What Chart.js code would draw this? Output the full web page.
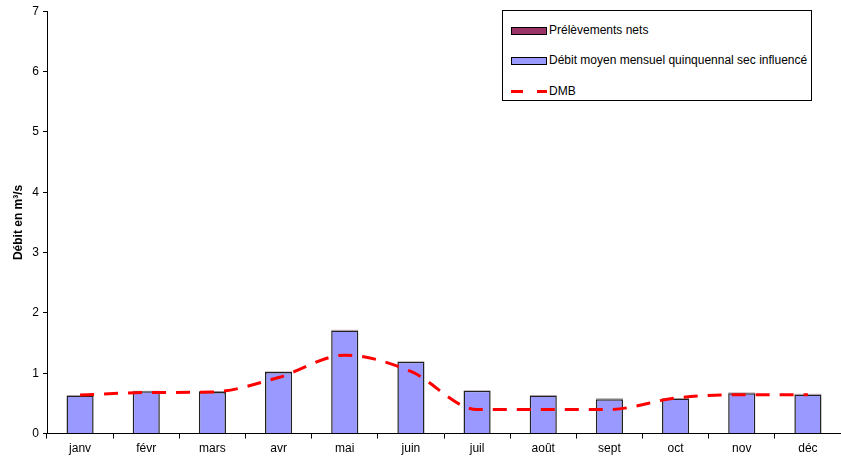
<!DOCTYPE html>
<html>
<head>
<meta charset="utf-8">
<script src="https://cdn.jsdelivr.net/npm/chart.js@4/dist/chart.umd.min.js"></script>
<style>
  html, body { margin: 0; padding: 0; background: #fff; }
  #wrap { position: relative; width: 841px; height: 460px; }
  #legend {
    position: absolute; left: 502px; top: 10px; width: 308px; height: 89px;
    border: 1px solid #000; background: #fff;
    font: 12px "Liberation Sans", Arial, sans-serif; color: #000;
  }
  .item { position: absolute; left: 8px; height: 13px; line-height: 13px; white-space: nowrap; }
  .sw { display: inline-block; width: 34px; height: 6px; border: 1px solid #000; vertical-align: middle; margin-right: 2px; }
  .dash { display: inline-block; width: 36px; height: 3px; vertical-align: middle; margin-right: 2px;
    background: linear-gradient(90deg, #f00 0 12px, transparent 12px 26px, #f00 26px 36px); }
</style>
</head>
<body>
<div id="wrap">
  <canvas id="chart" width="841" height="460"></canvas>
  <div id="legend">
    <div class="item" style="top:13px"><span class="sw" style="background:#993366"></span>Prélèvements nets</div>
    <div class="item" style="top:43px"><span class="sw" style="background:#9999ff"></span>Débit moyen mensuel quinquennal sec influencé</div>
    <div class="item" style="top:74px"><span class="dash"></span>DMB</div>
  </div>
</div>
<script>
const months = ['janv', 'févr', 'mars', 'avr', 'mai', 'juin', 'juil', 'août', 'sept', 'oct', 'nov', 'déc']
const debit = [0.63, 0.70, 0.69, 1.02, 1.71, 1.19, 0.71, 0.63, 0.57, 0.58, 0.67, 0.65]
const prelevements = [0.01, 0.01, 0.01, 0.01, 0.01, 0.01, 0.01, 0.01, 0.01, 0.01, 0.01, 0.01]
const dmb = [0.64, 0.68, 0.69, 0.93, 1.30, 1.03, 0.40, 0.40, 0.40, 0.59, 0.645, 0.645]
const yTicks = [0, 1, 2, 3, 4, 5, 6, 7]

Chart.defaults.font.family = '"Liberation Sans", Arial, sans-serif'
Chart.defaults.font.size = 12
Chart.defaults.color = '#000'

const ctx = document.querySelector('#chart')
new Chart(ctx, {
    type: 'bar',
    data: {
        labels: months,
        datasets: [{
            type: 'line',
            label: 'DMB',
            data: dmb,
            borderColor: '#ff0000',
            borderWidth: 3,
            borderDash: [14, 10],
            pointRadius: 0,
            cubicInterpolationMode: 'monotone',
            fill: false,
            order: 0,
        }, {
            label: 'Débit moyen mensuel quinquennal sec influencé',
            data: debit,
            backgroundColor: '#9999ff',
            borderColor: '#222',
            borderWidth: 1.5,
            stack: 's',
            order: 1,
        }, {
            label: 'Prélèvements nets',
            data: prelevements,
            backgroundColor: '#993366',
            borderColor: '#000',
            borderWidth: 1,
            stack: 's',
            order: 1,
        }]
    },
    options: {
        responsive: false,
        animation: false,
        layout: { padding: { top: 10, right: 0, left: 0, bottom: 1 } },
        datasets: { bar: { barPercentage: 0.41, categoryPercentage: 1 } },
        plugins: { legend: { display: false }, tooltip: { enabled: false } },
        scales: {
            x: {
                stacked: true,
                grid: { drawOnChartArea: false, color: '#000', tickLength: 5, offset: true },
                border: { color: '#000' },
                ticks: { color: '#000', padding: 3 },
            },
            y: {
                stacked: true,
                min: 0,
                max: 7,
                afterBuildTicks: axis => { axis.ticks = yTicks.map(v => ({ value: v })) },
                afterFit: axis => { axis.width = 47 },
                grid: { drawOnChartArea: false, color: '#000', tickLength: 4 },
                border: { color: '#000' },
                ticks: { color: '#000', padding: 4 },
                title: { display: true, text: 'Débit en m³/s', font: { weight: 'bold', size: 12 }, padding: { top: 11, bottom: 0 } },
            }
        }
    }
})
</script>
</body>
</html>
